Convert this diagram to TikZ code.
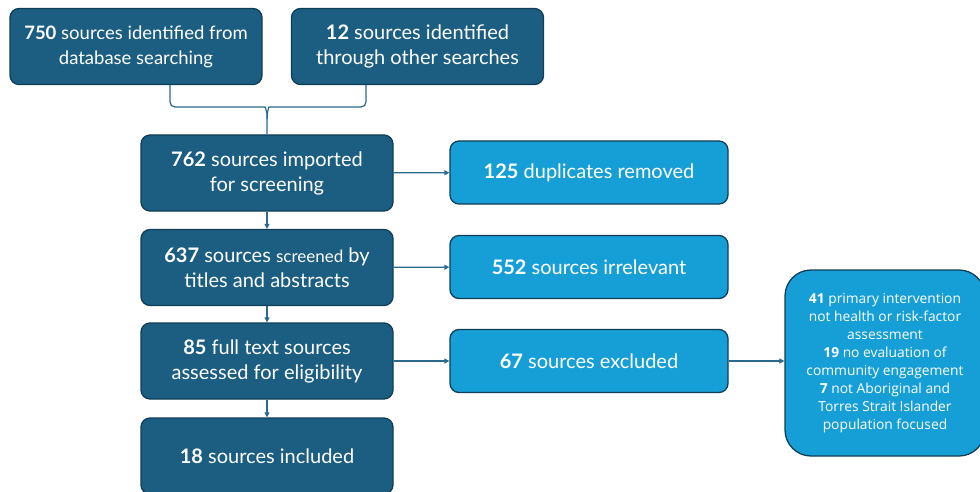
\documentclass[tikz,border=0pt]{standalone}
\usepackage{fontspec}
\setmainfont{Lato}
\newfontfamily\notefont{Open Sans}
\usetikzlibrary{arrows.meta}

\definecolor{deepblue}{HTML}{1B5E82}
\definecolor{skyblue}{HTML}{169FD6}
\definecolor{edgeblue}{HTML}{103E56}
\definecolor{linkblue}{HTML}{2A6A8C}

\tikzset{
  stage/.style={draw=edgeblue, line width=1.3pt, fill=deepblue, text=white,
    rounded corners=9pt, align=center, minimum width=252pt, minimum height=76pt,
    font=\fontsize{20}{25}\selectfont},
  dropped/.style={stage, fill=skyblue, minimum width=278pt, minimum height=63pt},
  link/.style={draw=linkblue, line width=1.2pt, -{Triangle[length=5pt,width=5pt]}}
}

\begin{document}
\begin{tikzpicture}[x=1pt,y=-1pt]
	\useasboundingbox (0,0) rectangle (980,492);

	% identification
	\node[stage, font=\fontsize{18.5}{25}\selectfont] (db) at (136,46.5) {\textbf{750} sources identified from\\database searching};
	\node[stage] (other) at (417.5,46.5) {\textbf{12} sources identified\\through other searches};

	% main flow
	\node[stage] (imported) at (267,173) {\textbf{762} sources imported\\for screening};
	\node[stage] (screened) at (267,267.5) {\textbf{637} sources {\fontsize{17}{25}\selectfont screened} by\\titles and abstracts};
	\node[stage] (fulltext) at (267,361) {\textbf{85} full text sources\\assessed for eligibility};
	\node[stage] (included) at (267,456) {\textbf{18} sources included};

	% removed on the way
	\node[dropped] (dupes) at (589,172.5) {\textbf{125} duplicates removed};
	\node[dropped] (irrel) at (589,267) {\textbf{552} sources irrelevant};
	\node[dropped] (excl) at (589,361) {\textbf{67} sources excluded};
	\node[stage, fill=skyblue, rounded corners=26pt, minimum width=200pt, minimum height=186pt,
	      font=\notefont\fontsize{13.8}{18}\selectfont] (reasons) at (885,363)
	  {\textbf{41} primary intervention\\not health or risk-factor\\assessment\\
	   \textbf{19} no evaluation of\\community engagement\\
	   \textbf{7} not Aboriginal and\\Torres Strait Islander\\population focused};

	% brace joining the two searches
	\coordinate (tip) at (imported.north |- 0,119);
	\draw[link, -, rounded corners=5pt] (db.south -| 170,0) |- (260,107) to[out=0,in=90] (tip) -- (imported.north);
	\draw[link, -, rounded corners=5pt] (other.south -| 366,0) |- (274,107) to[out=180,in=90] (tip);

	% arrows
	\draw[link] (imported) -- (screened);
	\draw[link] (screened) -- (fulltext);
	\draw[link] (fulltext) -- (included);
	\draw[link] (imported) -- (dupes);
	\draw[link] (screened) -- (irrel);
	\draw[link] (fulltext) -- (excl);
	\draw[link] (excl) -- (excl -| reasons.west);

\end{tikzpicture}
\end{document}
